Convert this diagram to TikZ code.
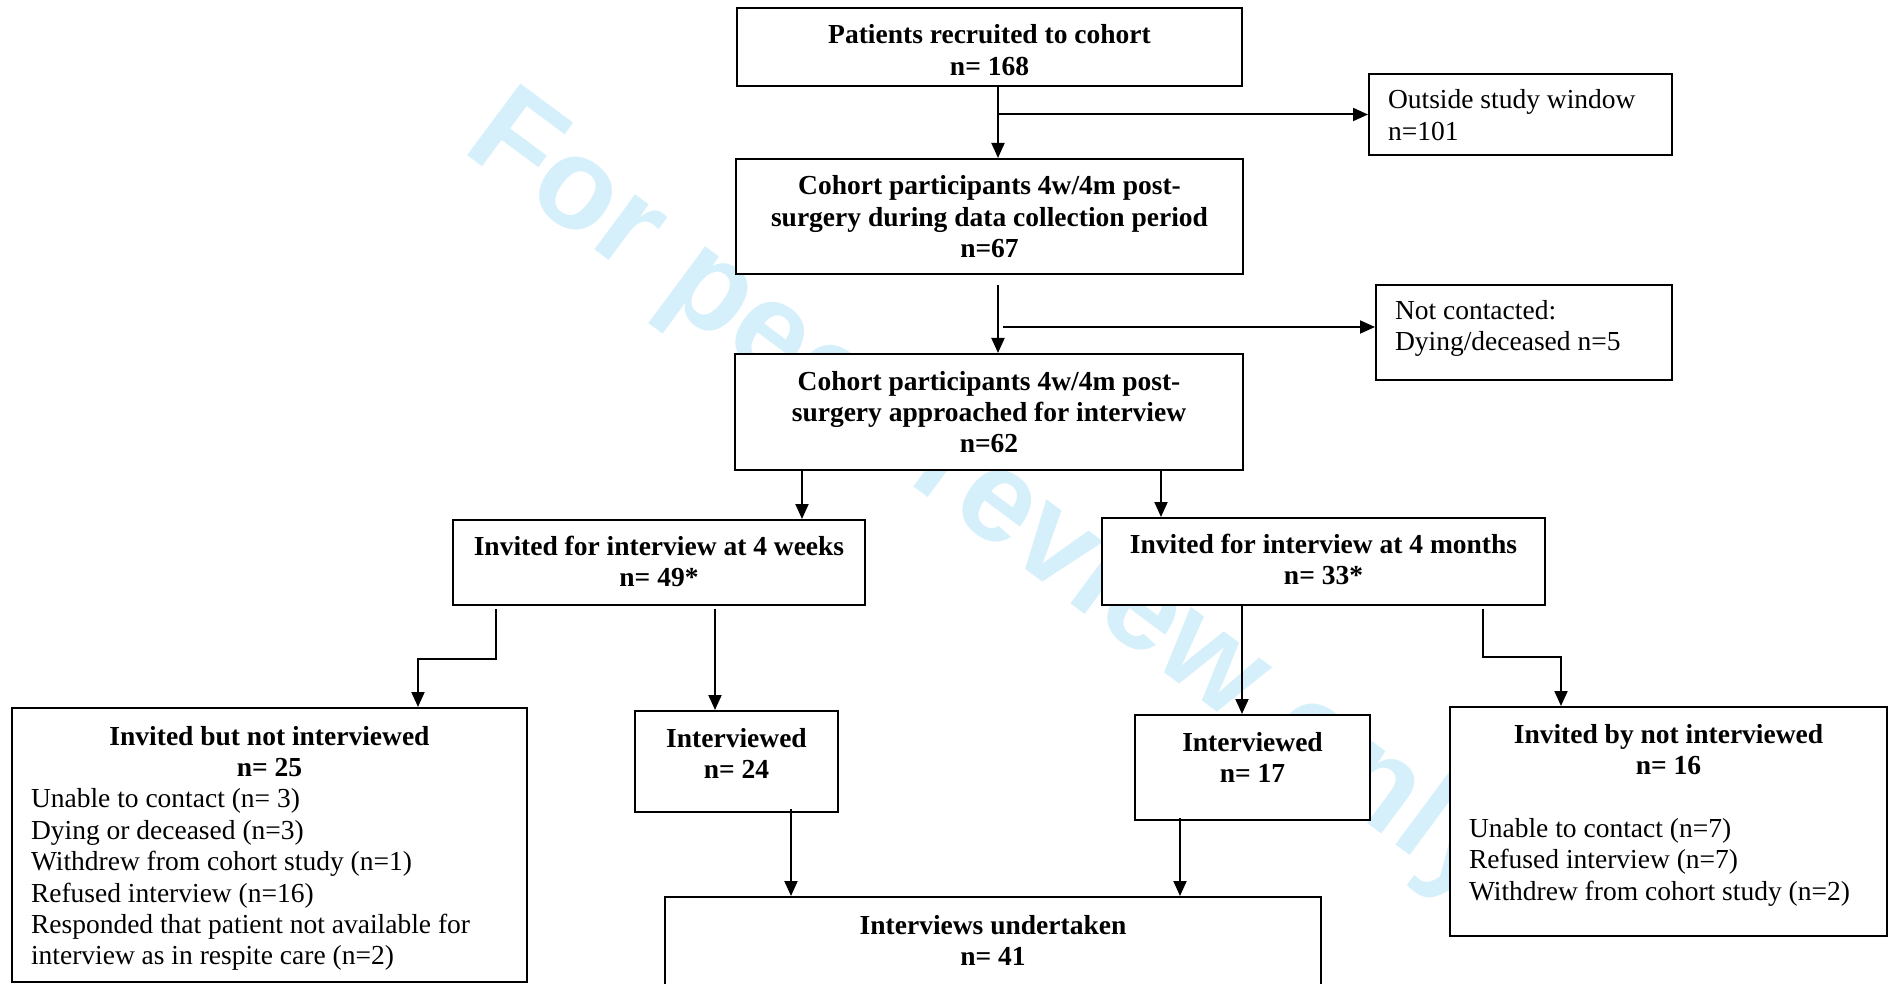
\documentclass[tikz,border=0pt]{standalone}
\usepackage{fontspec}
\setmainfont{Liberation Serif}
\newfontfamily\wmfont{Liberation Sans}
\usetikzlibrary{arrows.meta}
\definecolor{wmblue}{RGB}{214,240,251}
\begin{document}
\begin{tikzpicture}[x=1pt,y=-1pt,
  every node/.style={font=\fontsize{27.5pt}{31.4pt}\selectfont},
  box/.style={draw, fill=white, line width=2pt, inner ysep=0pt, inner xsep=0pt, anchor=north west},
  lbox/.style={box, inner xsep=19pt},
  arr/.style={line width=2pt, -{Triangle[length=15pt,width=13pt]}},
  wmark/.style={font=\wmfont\bfseries\fontsize{130pt}{130pt}\selectfont, text=wmblue, rotate=-36.6, anchor=base west, inner sep=0pt}]
\useasboundingbox (0,0) rectangle (1888,984);

\node[wmark] (wmk) at (460,150) {For peer review only};

\node[box] (b1) at (736,7) {\parbox[c][78pt][t]{505pt}{\centering\bfseries\rule{0pt}{36pt}Patients recruited to cohort\\n= 168}};
\node[box] (b2) at (735,158) {\parbox[c][115pt][t]{507pt}{\centering\bfseries\rule{0pt}{36pt}Cohort participants 4w/4m post-\\surgery during data collection period\\n=67}};
\node[lbox] (out1) at (1368,73) {\parbox[c][81pt][t]{265pt}{\raggedright\rule{0pt}{35pt}Outside study window\\n=101}};
\node[lbox] (nc) at (1375,284) {\parbox[c][95pt][t]{258pt}{\raggedright\rule{0pt}{34pt}Not contacted:\\Dying/deceased n=5}};
\node[box] (b3) at (734,353) {\parbox[c][116pt][t]{508pt}{\centering\bfseries\rule{0pt}{36pt}Cohort participants 4w/4m post-\\surgery approached for interview\\n=62}};
\node[box] (w4) at (452,519) {\parbox[c][85pt][t]{412pt}{\centering\bfseries\rule{0pt}{35pt}Invited for interview at 4 weeks\\n= 49*}};
\node[box] (m4) at (1101,517) {\parbox[c][87pt][t]{443pt}{\centering\bfseries\rule{0pt}{35pt}Invited for interview at 4 months\\n= 33*}};
\node[lbox] (nb1) at (11,707) {\parbox[c][274pt][t]{477pt}{{\centering\bfseries\rule{0pt}{37pt}Invited but not interviewed\\n= 25\par}\raggedright Unable to contact (n= 3)\\Dying or deceased (n=3)\\Withdrew from cohort study (n=1)\\Refused interview (n=16)\\Responded that patient not available for\\interview as in respite care (n=2)}};
\node[box] (i24) at (634,710) {\parbox[c][101pt][t]{203pt}{\centering\bfseries\rule{0pt}{36pt}Interviewed\\n= 24}};
\node[box] (i17) at (1134,714) {\parbox[c][105pt][t]{235pt}{\centering\bfseries\rule{0pt}{36pt}Interviewed\\n= 17}};
\node[lbox] (nb2) at (1449,706) {\parbox[c][229pt][t]{399pt}{{\centering\bfseries\rule{0pt}{36pt}Invited by not interviewed\\n= 16\par}\raggedright\mbox{}\\Unable to contact (n=7)\\Refused interview (n=7)\\Withdrew from cohort study (n=2)}};
\node[box] (iu) at (664,896) {\parbox[c][120pt][t]{656pt}{\centering\bfseries\rule{0pt}{37pt}Interviews undertaken\\n= 41}};

\coordinate (v1) at ([xshift=262pt]b1.south west);
\coordinate (v2) at ([xshift=268pt]b2.south west);
\coordinate (t2) at ([yshift=5.5pt]nc.west);

\draw[arr] (v1) -- ([xshift=263pt]b2.north west);
\draw[arr] (v1 |- out1.west) -- (out1.west);
\draw[arr] ([xshift=263pt,yshift=-10pt]b2.south west) -- ([xshift=264pt]b3.north west);
\draw[arr] (v2 |- t2) -- (t2);
\draw[arr] ([xshift=68pt]b3.south west) -- ([xshift=350pt]w4.north west);
\draw[arr] ([xshift=427pt]b3.south west) -- ([xshift=60pt]m4.north west);
\draw[arr] ([xshift=44pt,yshift=-3pt]w4.south west) -- ++(0,50) -| ([xshift=407pt]nb1.north west);
\draw[arr] ([xshift=263pt,yshift=-3pt]w4.south west) -- ([xshift=81pt]i24.north west);
\draw[arr] ([xshift=141pt]m4.south west) -- ([xshift=108pt]i17.north west);
\draw[arr] ([xshift=382pt,yshift=-3pt]m4.south west) -- ++(0,48) -| ([xshift=112pt]nb2.north west);
\draw[arr] ([xshift=157pt,yshift=4pt]i24.south west) -- ([xshift=127pt]iu.north west);
\draw[arr] ([xshift=46pt,yshift=3pt]i17.south west) -- ([xshift=516pt]iu.north west);
\end{tikzpicture}
\end{document}
